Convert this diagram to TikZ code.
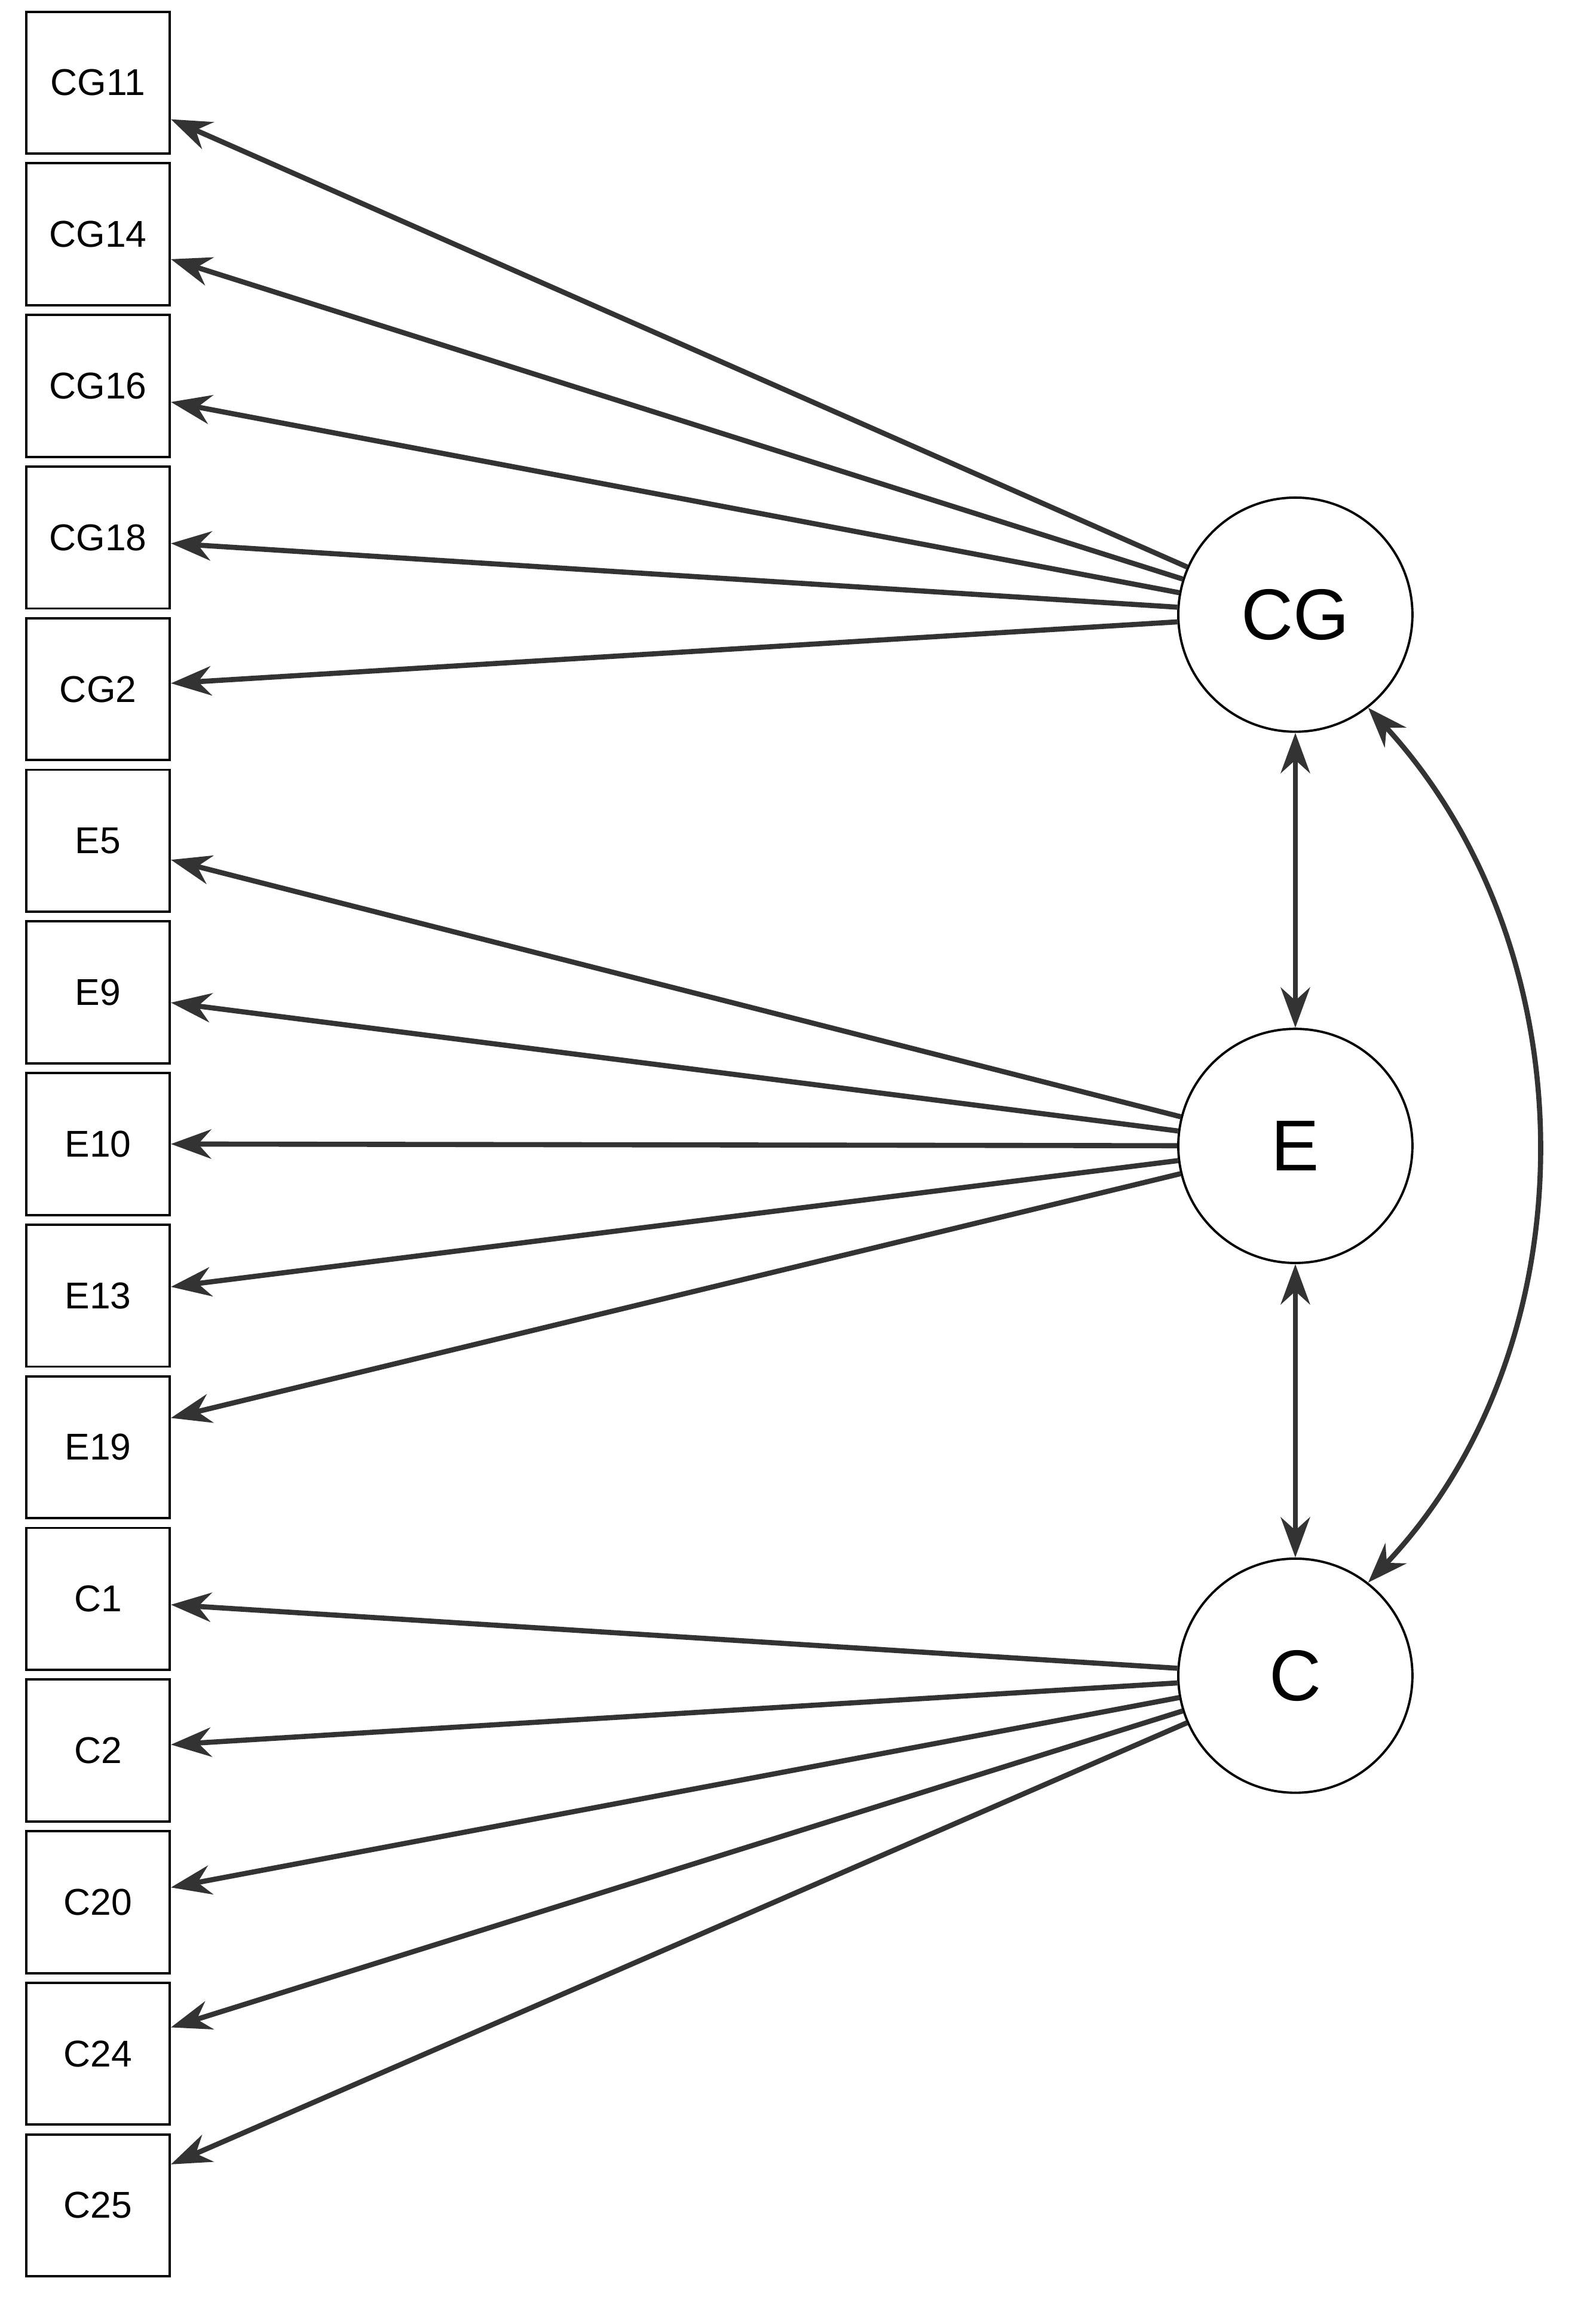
\documentclass[tikz,border=0pt]{standalone}
\usepackage{fontspec}
\setmainfont{Liberation Sans}
\usetikzlibrary{arrows.meta}
\definecolor{ln}{HTML}{333333}
\begin{document}
\begin{tikzpicture}[x=0.02cm,y=-0.02cm,
  obs/.style={draw=black,line width=0.9pt,minimum width=1.96cm,minimum height=1.94cm,inner sep=0pt,font=\fontsize{14.5}{16}\selectfont},
  lat/.style={draw=black,line width=0.9pt,circle,minimum size=3.2cm,inner sep=0pt,font=\fontsize{28}{30}\selectfont},
  arr/.style={draw=ln,line width=2pt,-{Stealth[length=0.55cm,width=0.4cm]}},
  darr/.style={draw=ln,line width=2pt,{Stealth[length=0.55cm,width=0.4cm]}-{Stealth[length=0.55cm,width=0.4cm]}}]
\useasboundingbox (0,0) rectangle (1080,1588);
\foreach \n/\i/\d in {CG11/0/25,CG14/1/17,CG16/2/11,CG18/3/4,CG2/4/-4,E5/5/13,E9/6/7,E10/7/0,E13/8/-6,E19/9/-20,C1/10/4,C2/11/-4,C20/12/-10,C24/13/-18,C25/14/-28}{
  \node[obs] (\n) at (67,{56.5+103.6*\i}) {\n};
  \coordinate (p\n) at ([yshift={-0.02*\d cm}]\n.east);
}
\node[lat] (CG) at (885,420) {CG};
\node[lat] (E) at (885,783) {E};
\node[lat] (C) at (885,1145) {C};
\foreach \n in {CG11,CG14,CG16,CG18,CG2}{\draw[arr] (CG) -- (p\n);}
\foreach \n in {E5,E9,E10,E13,E19}{\draw[arr] (E) -- (p\n);}
\foreach \n in {C1,C2,C20,C24,C25}{\draw[arr] (C) -- (p\n);}
\draw[darr] (CG) -- (E);
\draw[darr] (E) -- (C);
\draw[darr] (CG.-52) .. controls (1088,650) and (1088,920) .. (C.52);
\end{tikzpicture}
\end{document}
